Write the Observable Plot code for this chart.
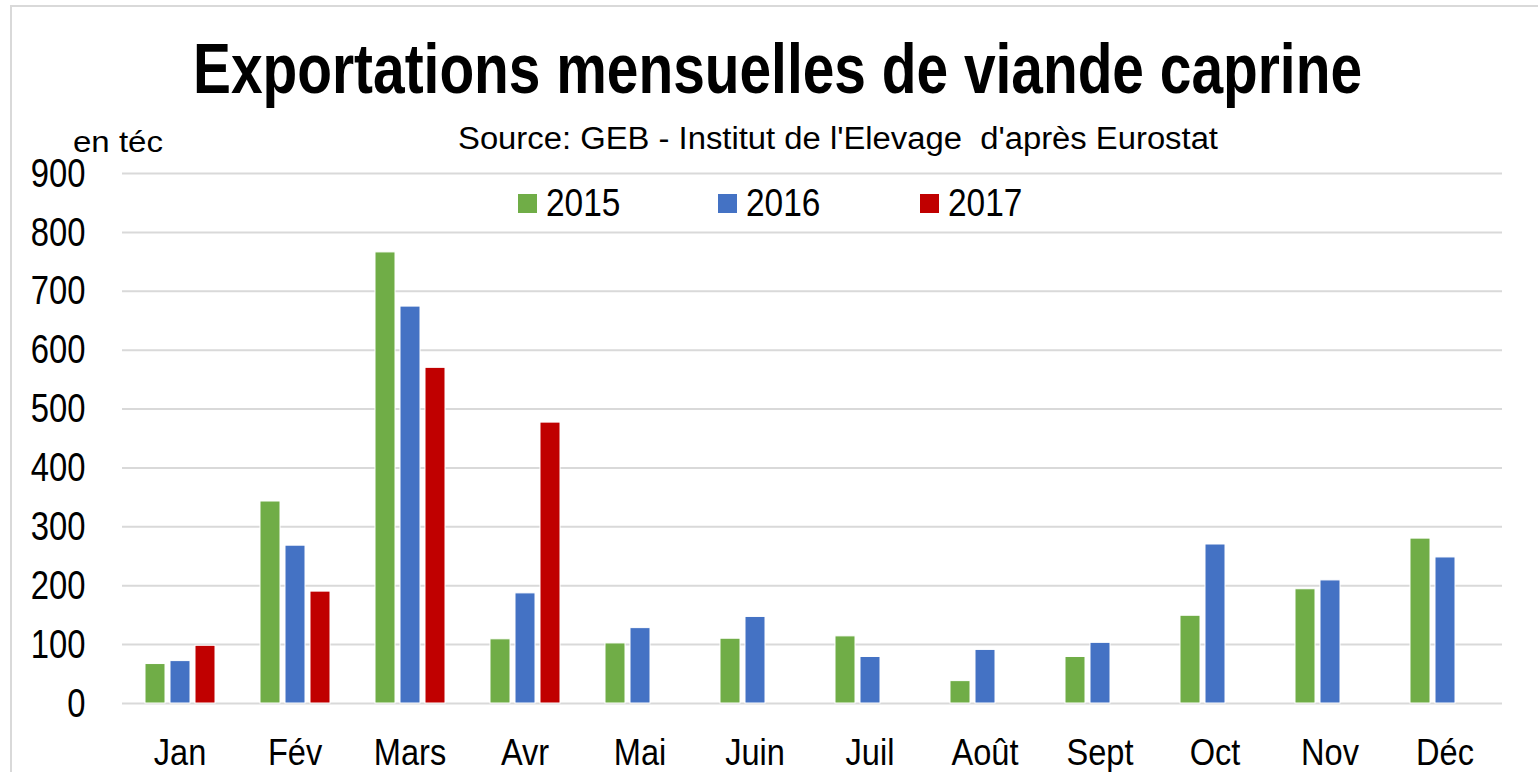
<!DOCTYPE html>
<html>
<head>
<meta charset="utf-8">
<script src="https://cdn.jsdelivr.net/npm/d3@7"></script>
<script src="https://cdn.jsdelivr.net/npm/@observablehq/plot@0.6"></script>
<style>
  html, body { margin: 0; padding: 0; background: #fff; overflow: hidden; }
  body { width: 1538px; height: 772px; position: relative; font-family: "Liberation Sans Narrow", "Arial Narrow", "Liberation Sans", Arial, sans-serif; color: #000; }
  #frame { position: absolute; left: 10px; top: 5px; width: 1540px; height: 800px; border: 2px solid #d9d9d9; box-sizing: border-box; }
  .txt { position: absolute; white-space: pre; line-height: 1; transform-origin: 0 0; }
  #title { font-weight: bold; font-size: 70px; }
  #source { font-size: 31px; }
  #unit { font-size: 30px; }
  #legend { position: absolute; top: 183px; left: 0; width: 1538px; height: 40px; }
  .lg { position: absolute; top: 0; display: flex; align-items: center; height: 40px; font-size: 38px; }
  .lg span { display: inline-block; transform: scaleX(0.88); transform-origin: 0 50%; }
  .sw { width: 19px; height: 19px; margin-right: 9px; }
  #chart { position: absolute; left: 0; top: 150px; }
</style>
</head>
<body>
<div id="frame"></div>
<div id="title" class="txt">Exportations mensuelles de viande caprine</div>
<div id="unit" class="txt">en téc</div>
<div id="source" class="txt">Source: GEB - Institut de l'Elevage  d'après Eurostat</div>
<div id="legend"></div>
<div id="chart"></div>
<script>
const months = ["Jan", "Fév", "Mars", "Avr", "Mai", "Juin", "Juil", "Août", "Sept", "Oct", "Nov", "Déc"];
const years = [2015, 2016, 2017];
const v2015 = [67, 343, 766, 109, 102, 110, 114, 38, 79, 149, 194, 280];
const v2016 = [72, 268, 674, 187, 128, 147, 79, 91, 103, 270, 209, 248];
const v2017 = [98, 190, 570, 477, null, null, null, null, null, null, null, null];
const colors = ["#70AD47", "#4472C4", "#C00000"];
const yTicks = [0, 100, 200, 300, 400, 500, 600, 700, 800, 900];

const series = [v2015, v2016, v2017];
const data = [];
months.forEach((m, i) => {
  series.forEach((arr, j) => {
    if (arr[i] != null) data.push({month: m, year: years[j], value: arr[i]});
  });
});

// Place header texts, fitted to the reference widths
function place(id, left, baseline, targetWidth, fontPx, ascentRatio) {
  const el = document.getElementById(id);
  const w = el.getBoundingClientRect().width;
  const s = targetWidth / w;
  el.style.left = left + "px";
  el.style.top = (baseline - fontPx * ascentRatio) + "px";
  el.style.transform = `scaleX(${s})`;
}
place("title", 193, 93, 1169, 70, 0.85);
place("unit", 73, 152, 90, 30, 0.85);
place("source", 458, 149, 760, 31, 0.85);

// Legend
const legend = document.getElementById("legend");
const legendX = [518, 718, 920];
years.forEach((y, i) => {
  const item = document.createElement("div");
  item.className = "lg";
  item.style.left = legendX[i] + "px";
  const sw = document.createElement("div");
  sw.className = "sw";
  sw.style.background = colors[i];
  const lab = document.createElement("span");
  lab.textContent = String(y);
  item.appendChild(sw);
  item.appendChild(lab);
  legend.appendChild(item);
});

const chart = Plot.plot({
  width: 1538,
  height: 622,
  marginLeft: 122,
  marginRight: 36,
  marginTop: 23,
  marginBottom: 69,
  style: {fontFamily: '"Liberation Sans Narrow", "Arial Narrow", "Liberation Sans", Arial, sans-serif', color: "#000", background: "transparent", overflow: "visible"},
  fx: {domain: months, padding: 0, label: null},
  x: {domain: years, paddingInner: 0.2, paddingOuter: 0.864, axis: null},
  y: {domain: [0, 900], label: null},
  color: {domain: years, range: colors},
  marks: [
    Plot.gridY(yTicks, {stroke: "#d9d9d9", strokeOpacity: 1, strokeWidth: 2}),
    Plot.axisY(yTicks, {tickSize: 0, tickPadding: 37, fontSize: 41, label: null, fill: "#000"}),
    Plot.axisFx({tickSize: 0, tickPadding: 35, fontSize: 37, label: null, anchor: "bottom", fill: "#000"}),
    Plot.barY(data, {fx: "month", x: "year", y: "value", fill: "year", stroke: "white", strokeWidth: 1})
  ]
});
document.getElementById("chart").appendChild(chart);

// Narrow the tick label glyphs horizontally (reference uses a condensed face)
function squeeze(sel, s, where) {
  chart.querySelectorAll(sel + " text").forEach(t => {
    const tr = t.getAttribute("transform") || "";
    const b = t.getBBox();
    const px = where === "end" ? b.x + b.width : b.x + b.width / 2;
    if (!isFinite(px)) return;
    t.setAttribute("transform", `${tr} translate(${px},0) scale(${s},1) translate(${-px},0)`);
  });
}
squeeze('g[aria-label="y-axis tick label"]', 0.8, "end");
squeeze('g[aria-label="fx-axis tick label"]', 0.88, "middle");
</script>
</body>
</html>
